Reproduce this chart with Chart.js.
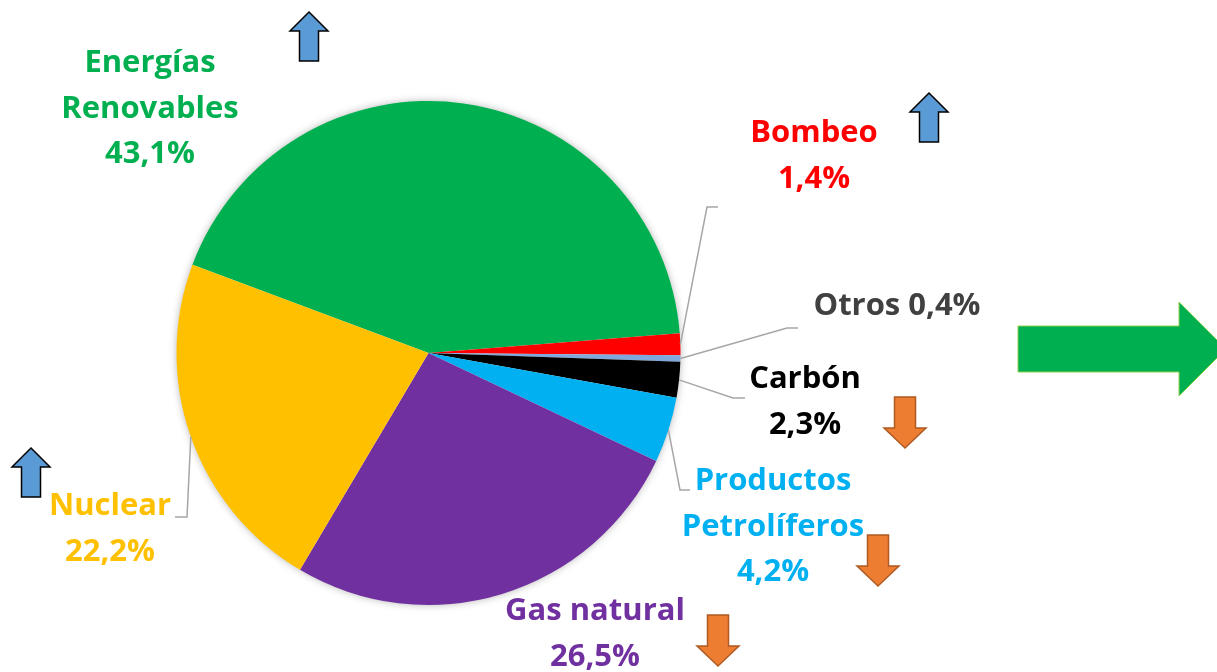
<!DOCTYPE html>
<html>
<head>
<meta charset="utf-8">
<script src="https://cdn.jsdelivr.net/npm/chart.js@4"></script>
<style>
  html, body { margin: 0; padding: 0; background: #fff; }
  canvas { display: block; }
</style>
</head>
<body>
<canvas id="mixChart" width="1217" height="672"></canvas>
<script>
// data
const categories = ["Energías Renovables", "Bombeo", "Otros", "Carbón", "Productos Petrolíferos", "Gas natural", "Nuclear"];
const shares = [43.1, 1.4, 0.4, 2.3, 4.2, 26.5, 22.2];
const trends = ["up", "up", null, "down", "down", "down", "up"];

const sliceColors = ["#00B050", "#FF0000", "#7FA9DC", "#000000", "#00B0F0", "#7030A0", "#FFC000"];
const textColors = ["#00B050", "#FF0000", "#404040", "#000000", "#00B0F0", "#7030A0", "#FFC000"];

// label text lines (name part), percentage is added from shares
const labelLines = [
    ["Energías", "Renovables"],
    ["Bombeo"],
    ["Otros"],
    ["Carbón"],
    ["Productos", "Petrolíferos"],
    ["Gas natural"],
    ["Nuclear"],
];

// where each label sits: center x, first baseline y, and whether % goes on the same line
const labelPos = [
    { x: 150, y: 72 },
    { x: 814, y: 142 },
    { x: 897, y: 315, inline: true },
    { x: 805, y: 388 },
    { x: 773, y: 490 },
    { x: 595, y: 620 },
    { x: 110, y: 515 },
];

// leader line elbows (null = no line)
const leaders = [
    null,
    [[707, 207], [718, 207]],
    [[787, 328], [798, 328]],
    [[733, 398], [745, 398]],
    [[680, 490], [690, 490]],
    null,
    [[187, 517], [175, 517]],
];

// trend arrows: center x, top y
const arrowPos = [
    { x: 309, y: 12 },
    { x: 929, y: 93 },
    null,
    { x: 905, y: 397 },
    { x: 878, y: 535 },
    { x: 718, y: 615 },
    { x: 31, y: 448 },
];

const fmt = (v) => v.toFixed(1).replace(".", ",") + "%";

function upArrow(ctx, cx, top) {
    ctx.beginPath();
    ctx.moveTo(cx, top);
    ctx.lineTo(cx + 19, top + 19);
    ctx.lineTo(cx + 9.5, top + 19);
    ctx.lineTo(cx + 9.5, top + 49);
    ctx.lineTo(cx - 9.5, top + 49);
    ctx.lineTo(cx - 9.5, top + 19);
    ctx.lineTo(cx - 19, top + 19);
    ctx.closePath();
    ctx.fillStyle = "#5B9BD5";
    ctx.fill();
    ctx.lineWidth = 1.5;
    ctx.strokeStyle = "#000000";
    ctx.stroke();
}

function downArrow(ctx, cx, top) {
    ctx.beginPath();
    ctx.moveTo(cx - 10.5, top);
    ctx.lineTo(cx + 10.5, top);
    ctx.lineTo(cx + 10.5, top + 31);
    ctx.lineTo(cx + 21, top + 31);
    ctx.lineTo(cx, top + 51);
    ctx.lineTo(cx - 21, top + 31);
    ctx.lineTo(cx - 10.5, top + 31);
    ctx.closePath();
    ctx.fillStyle = "#ED7D31";
    ctx.fill();
    ctx.lineWidth = 1.5;
    ctx.strokeStyle = "#AE5A21";
    ctx.stroke();
}

const pieShadow = {
    id: "pieShadow",
    beforeDatasetsDraw(chart) {
        const arc = chart.getDatasetMeta(0).data[0];
        if (!arc) return;
        const ctx = chart.ctx;
        ctx.save();
        ctx.shadowColor = "rgba(0,0,0,0.35)";
        ctx.shadowBlur = 8;
        ctx.beginPath();
        ctx.arc(arc.x, arc.y, arc.outerRadius - 1, 0, Math.PI * 2);
        ctx.fillStyle = "#ffffff";
        ctx.fill();
        ctx.restore();
    },
};

const decorations = {
    id: "decorations",
    afterDatasetsDraw(chart) {
        const ctx = chart.ctx;
        const arcs = chart.getDatasetMeta(0).data;
        ctx.save();

        // leader lines from slice edge at mid angle
        ctx.strokeStyle = "#A6A6A6";
        ctx.lineWidth = 1.5;
        leaders.forEach((pts, i) => {
            if (!pts) return;
            const a = arcs[i];
            const mid = (a.startAngle + a.endAngle) / 2;
            ctx.beginPath();
            ctx.moveTo(a.x + Math.cos(mid) * a.outerRadius, a.y + Math.sin(mid) * a.outerRadius);
            pts.forEach((p) => ctx.lineTo(p[0], p[1]));
            ctx.stroke();
        });

        // labels
        ctx.font = "bold 31px 'Open Sans', Lato, sans-serif";
        ctx.textAlign = "center";
        ctx.textBaseline = "alphabetic";
        labelLines.forEach((lines, i) => {
            const p = labelPos[i];
            const text = p.inline
                ? [lines[0] + " " + fmt(shares[i])]
                : lines.concat([fmt(shares[i])]);
            ctx.fillStyle = textColors[i];
            text.forEach((t, k) => ctx.fillText(t, p.x, p.y + k * 45.5));
        });

        // trend arrows
        trends.forEach((t, i) => {
            const p = arrowPos[i];
            if (!t || !p) return;
            if (t === "up") upArrow(ctx, p.x, p.y);
            else downArrow(ctx, p.x, p.y);
        });

        // big green arrow on the right
        ctx.beginPath();
        ctx.moveTo(1018, 326);
        ctx.lineTo(1179, 326);
        ctx.lineTo(1179, 302);
        ctx.lineTo(1226, 349);
        ctx.lineTo(1179, 396);
        ctx.lineTo(1179, 372);
        ctx.lineTo(1018, 372);
        ctx.closePath();
        ctx.fillStyle = "#00B050";
        ctx.fill();
        ctx.lineWidth = 1;
        ctx.strokeStyle = "#92D050";
        ctx.stroke();

        ctx.restore();
    },
};

new Chart(document.getElementById("mixChart"), {
    type: "pie",
    data: {
        labels: categories,
        datasets: [
            {
                data: shares,
                backgroundColor: sliceColors,
                borderWidth: 0,
            },
        ],
    },
    options: {
        responsive: false,
        animation: false,
        rotation: -69.5,
        layout: {
            padding: { left: 176.5, top: 101, right: 536.5, bottom: 67 },
        },
        plugins: {
            legend: { display: false },
            tooltip: { enabled: false },
        },
    },
    plugins: [pieShadow, decorations],
});
</script>
</body>
</html>
